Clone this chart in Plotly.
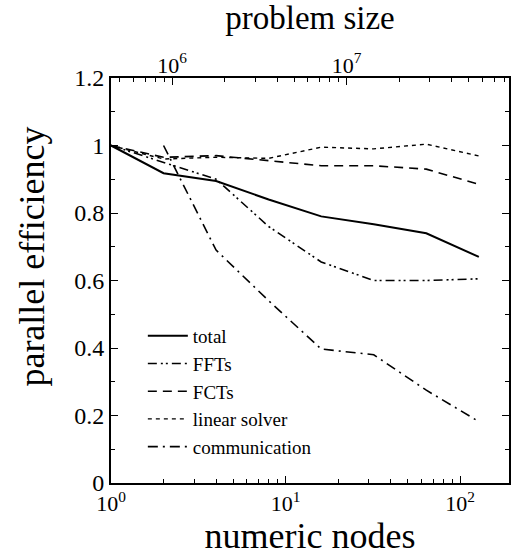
import plotly.graph_objects as go

nodes = [1, 2, 4, 8, 16, 32, 64, 128]
total = [1.0, 0.918, 0.895, 0.84, 0.79, 0.767, 0.74, 0.67]
ffts = [1.0, 0.95, 0.90, 0.76, 0.655, 0.60, 0.60, 0.605]
fcts = [1.0, 0.965, 0.97, 0.955, 0.94, 0.94, 0.93, 0.885]
linear_solver = [1.0, 0.96, 0.965, 0.962, 0.995, 0.99, 1.004, 0.969]
comm_nodes = [2, 4, 8, 16, 32, 64, 128]
communication = [1.0, 0.69, 0.54, 0.397, 0.38, 0.275, 0.182]

problem_per_node = 10 ** 5.65

FONT = "Times New Roman"

fig = go.Figure()
fig.add_trace(go.Scatter(x=nodes, y=total, mode="lines", name="total",
                         line=dict(color="black", width=2, dash="solid")))
fig.add_trace(go.Scatter(x=nodes, y=ffts, mode="lines", name="FFTs",
                         line=dict(color="black", width=1.6, dash="9px,4px,2px,3px,2px,4px")))
fig.add_trace(go.Scatter(x=nodes, y=fcts, mode="lines", name="FCTs",
                         line=dict(color="black", width=1.6, dash="9px,6px")))
fig.add_trace(go.Scatter(x=nodes, y=linear_solver, mode="lines", name="linear solver",
                         line=dict(color="black", width=1.4, dash="4px,4px")))
fig.add_trace(go.Scatter(x=comm_nodes, y=communication, mode="lines", name="communication",
                         line=dict(color="black", width=1.6, dash="10px,5px,2px,5px")))
# invisible trace to anchor the top (problem size) axis
fig.add_trace(go.Scatter(x=[n * problem_per_node for n in nodes], y=total, xaxis="x2",
                         mode="lines", line=dict(color="rgba(0,0,0,0)"), showlegend=False,
                         hoverinfo="skip"))

minor_bottom = [m * 10 ** e for e in range(0, 3) for m in range(2, 10)]
minor_top = [m * 10 ** e for e in range(5, 8) for m in range(2, 10)]

fig.update_layout(
    width=516, height=556,
    margin=dict(l=111, r=5, t=78, b=73),
    paper_bgcolor="white", plot_bgcolor="white",
    font=dict(family=FONT, color="black", size=21),
    showlegend=True,
    legend=dict(x=0.08, y=0.41, xanchor="left", yanchor="top",
                bgcolor="rgba(0,0,0,0)", font=dict(family=FONT, size=19),
                tracegroupgap=0, itemwidth=40),
    xaxis=dict(type="log", range=[0, 2.28], showline=True, linecolor="black", linewidth=1.8,
               mirror=True, ticks="inside", ticklen=7, tickcolor="black",
               tickvals=[1, 10, 100],
               ticktext=["10<sup>0</sup>", "10<sup>1</sup>", "10<sup>2</sup>"],
               tickfont=dict(family=FONT, size=22),
               minor=dict(tickvals=minor_bottom, ticks="inside", ticklen=4, tickcolor="black"),
               showgrid=False, zeroline=False,
               title=dict(text="numeric nodes", font=dict(family=FONT, size=36), standoff=5)),
    xaxis2=dict(type="log", overlaying="x", side="top",
                range=[5.65, 5.65 + 2.28], showline=False,
                ticks="inside", ticklen=7, tickcolor="black",
                tickvals=[1e6, 1e7],
                ticktext=["10<sup>6</sup>", "10<sup>7</sup>"],
                tickfont=dict(family=FONT, size=22),
                minor=dict(tickvals=minor_top, ticks="inside", ticklen=4, tickcolor="black"),
                showgrid=False, zeroline=False,
                title=dict(text="problem size", font=dict(family=FONT, size=33), standoff=10)),
    yaxis=dict(range=[0, 1.2], showline=True, linecolor="black", linewidth=1.8,
               mirror="ticks", ticks="inside", ticklen=7, tickcolor="black",
               tickvals=[0, 0.2, 0.4, 0.6, 0.8, 1.0, 1.2],
               ticktext=["0", "0.2", "0.4", "0.6", "0.8", "1", "1.2"],
               tickfont=dict(family=FONT, size=24),
               minor=dict(dtick=0.1, ticks="inside", ticklen=4, tickcolor="black"),
               showgrid=False, zeroline=False),
    annotations=[dict(text="parallel efficiency", textangle=-90, showarrow=False,
                      xref="paper", yref="paper", x=-0.1975, y=0.56,
                      xanchor="center", yanchor="middle",
                      font=dict(family=FONT, size=36, color="black"))],
)

fig.write_html("out.html")
